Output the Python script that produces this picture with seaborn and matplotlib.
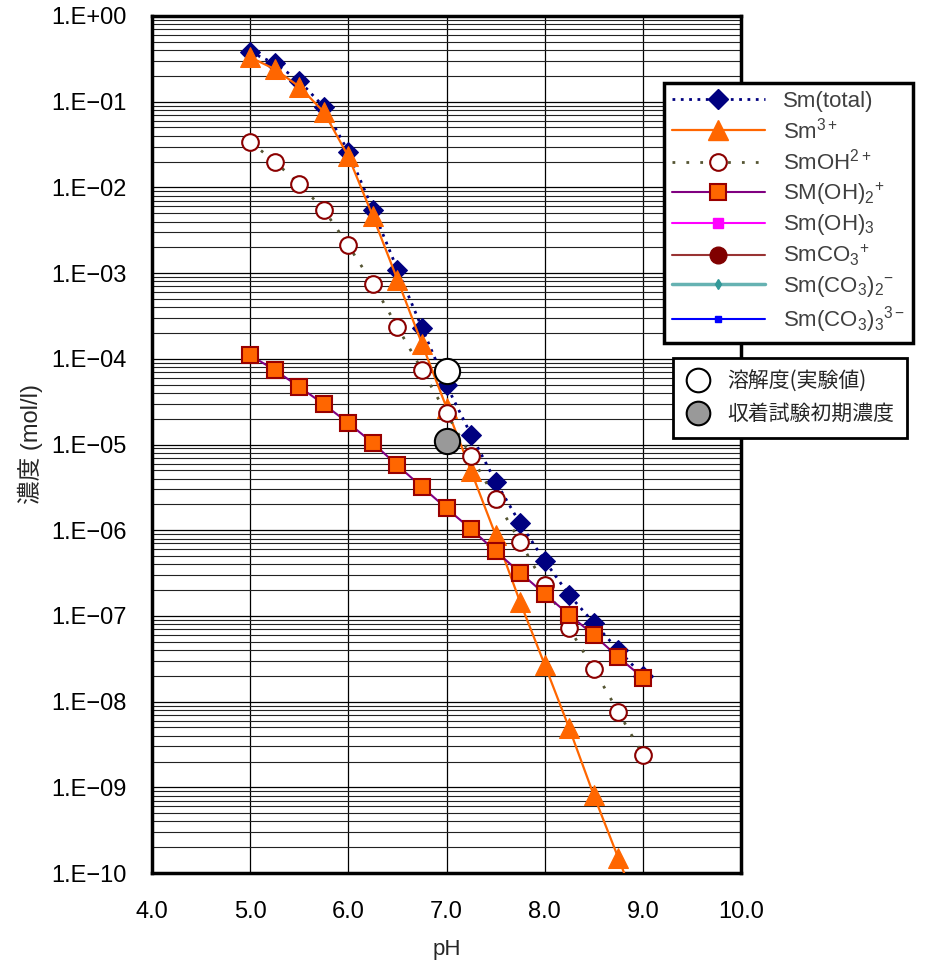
import numpy as np
import seaborn as sns
import matplotlib.pyplot as plt
from matplotlib.lines import Line2D
from matplotlib.ticker import FixedLocator, FuncFormatter, NullFormatter

# Sm species concentration vs pH
ph = [5.0, 5.25, 5.5, 5.75, 6.0, 6.25, 6.5, 6.75, 7.0,
      7.25, 7.5, 7.75, 8.0, 8.25, 8.5, 8.75, 9.0]
sm_total = [0.38, 0.28, 0.175, 0.087, 0.026, 5.5e-3, 1.1e-3, 2.3e-4, 4.9e-5,
            1.3e-5, 3.7e-6, 1.2e-6, 4.4e-7, 1.75e-7, 8.3e-8, 4.0e-8, 2.0e-8]
sm3 = [0.33, 0.24, 0.15, 0.076, 0.023, 4.6e-3, 8.4e-4, 1.5e-4, 2.7e-5,
       4.9e-6, 8.8e-7, 1.45e-7, 2.7e-8, 4.9e-9, 8.1e-10, 1.5e-10, 2.7e-11]
smoh = [0.034, 0.020, 0.011, 5.5e-3, 2.1e-3, 7.5e-4, 2.35e-4, 7.4e-5, 2.3e-5,
        7.4e-6, 2.3e-6, 7.3e-7, 2.3e-7, 7.2e-8, 2.4e-8, 7.6e-9, 2.4e-9]
smoh2 = [1.1e-4, 7.4e-5, 4.7e-5, 2.95e-5, 1.78e-5, 1.04e-5, 5.7e-6, 3.2e-6, 1.8e-6,
         1.03e-6, 5.7e-7, 3.2e-7, 1.8e-7, 1.03e-7, 6.0e-8, 3.3e-8, 1.9e-8]

exp_ph = [7.0]
solubility = [7.2e-5]      # 溶解度（実験値）
sorption_init = [1.1e-5]   # 収着試験初期濃度

species_labels = ['Sm(total)', 'Sm$^{3+}$', 'SmOH$^{2+}$', 'SM(OH)$_2$$^{+}$',
                  'Sm(OH)$_3$', 'SmCO$_3$$^{+}$', 'Sm(CO$_3$)$_2$$^{-}$',
                  'Sm(CO$_3$)$_3$$^{3-}$']
exp_labels = ['溶解度(実験値)', '収着試験初期濃度']
xticks = [4.0, 5.0, 6.0, 7.0, 8.0, 9.0, 10.0]

sns.set_style('white')
plt.rcParams['font.family'] = ['Liberation Sans', 'Noto Sans CJK JP', 'DejaVu Sans']
plt.rcParams['mathtext.fontset'] = 'custom'
plt.rcParams['mathtext.rm'] = 'Liberation Sans'
plt.rcParams['mathtext.it'] = 'Liberation Sans'

styles = [
    dict(color='#000080', marker='D', markersize=10, markerfacecolor='#000080',
         markeredgecolor='#000080', linestyle=(0, (1, 2)), linewidth=2),
    dict(color='#FF6600', marker='^', markersize=15, markerfacecolor='#FF6600',
         markeredgecolor='#FF6600', linestyle='-', linewidth=1.6),
    dict(color='#555533', marker='o', markersize=12, markerfacecolor='white',
         markeredgecolor='#8B0000', markeredgewidth=1.5, linestyle=(0, (1, 4)), linewidth=2),
    dict(color='#800080', marker='s', markersize=12, markerfacecolor='#FF6600',
         markeredgecolor='#990000', markeredgewidth=1.5, linestyle='-', linewidth=1.5),
    dict(color='#FF00FF', marker='s', markersize=7, markerfacecolor='#FF00FF',
         markeredgecolor='#FF00FF', linestyle='-', linewidth=1.5),
    dict(color='#993333', marker='o', markersize=12, markerfacecolor='#800000',
         markeredgecolor='#800000', linestyle='-', linewidth=1.5),
    dict(color='#66B2B2', marker='d', markersize=5, markerfacecolor='#339999',
         markeredgecolor='#339999', linestyle='-', linewidth=2.5),
    dict(color='#0000FF', marker='s', markersize=4, markerfacecolor='#0000FF',
         markeredgecolor='#0000FF', linestyle='-', linewidth=1.5),
]

fig = plt.figure(figsize=(9.27, 9.69), dpi=100)
ax = fig.add_axes([152 / 927, 1 - 873 / 969, (741 - 152) / 927, (873 - 16) / 969])

series = [sm_total, sm3, smoh, smoh2]
for i, vals in enumerate(series):
    sns.lineplot(x=ph, y=vals, ax=ax, legend=False, zorder=3 + i, **styles[i])

sns.scatterplot(x=exp_ph, y=solubility, ax=ax, s=330, marker='o', color='white',
                edgecolor='black', linewidth=1.5, zorder=10, legend=False)
sns.scatterplot(x=exp_ph, y=sorption_init, ax=ax, s=330, marker='o', color='#999999',
                edgecolor='black', linewidth=1.5, zorder=10, legend=False)

ax.set_yscale('log')
ax.set_ylim(1e-10, 1)
ax.set_xlim(4.0, 10.0)
ax.set_xticks(xticks)
ax.xaxis.set_major_formatter(FuncFormatter(lambda v, p: f'{v:.1f}'))
ax.yaxis.set_major_locator(FixedLocator([10.0 ** k for k in range(-10, 1)]))
ax.yaxis.set_minor_locator(FixedLocator([m * 10.0 ** k for k in range(-10, 0) for m in range(2, 10)]))
ax.yaxis.set_major_formatter(FuncFormatter(
    lambda v, p: '1.E' + ('+' if v >= 1 else '\u2212') + f'{abs(int(round(np.log10(v)))):02d}'))
ax.yaxis.set_minor_formatter(NullFormatter())

ax.grid(True, which='major', axis='both', color='black', linewidth=0.9)
ax.grid(True, which='minor', axis='y', color='#222222', linewidth=0.8)
ax.set_axisbelow(True)
ax.tick_params(axis='both', which='both', length=0, labelsize=17, colors='black')
ax.tick_params(axis='y', pad=18)
ax.tick_params(axis='x', pad=20)
for s in ax.spines.values():
    s.set_visible(True)
    s.set_color('black')
    s.set_linewidth(2.5)

ax.set_xlabel('pH', fontsize=16, labelpad=12)
ax.set_ylabel('濃度 (mol/l)', fontsize=17, labelpad=6)

# legends
handles1 = [Line2D([], [], **st) for st in styles]
leg1 = fig.legend(handles1, species_labels, loc='upper left',
                  bbox_to_anchor=(664 / 927, 1 - 83 / 969), fontsize=16,
                  handlelength=4.2, labelspacing=0.25, borderpad=0.35,
                  borderaxespad=0, handletextpad=0.8, fancybox=False, framealpha=1,
                  edgecolor='black', labelcolor='#404040')
leg1.get_frame().set_linewidth(2.5)
leg1.set_zorder(20)

handles2 = [Line2D([], [], linestyle='none', marker='o', markersize=17,
                   markerfacecolor='white', markeredgecolor='black', markeredgewidth=1.5),
            Line2D([], [], linestyle='none', marker='o', markersize=17,
                   markerfacecolor='#999999', markeredgecolor='black', markeredgewidth=1.5)]
leg2 = fig.legend(handles2, exp_labels, loc='upper left',
                  bbox_to_anchor=(673 / 927, 1 - 358 / 969),
                  prop={'family': ['Noto Sans CJK JP'], 'size': 15},
                  handlelength=1.2, labelspacing=0.5, borderpad=0.6,
                  borderaxespad=0, handletextpad=0.8, fancybox=False, framealpha=1,
                  edgecolor='black')
leg2.get_frame().set_linewidth(2)

fig.savefig('out.png', dpi=100)
